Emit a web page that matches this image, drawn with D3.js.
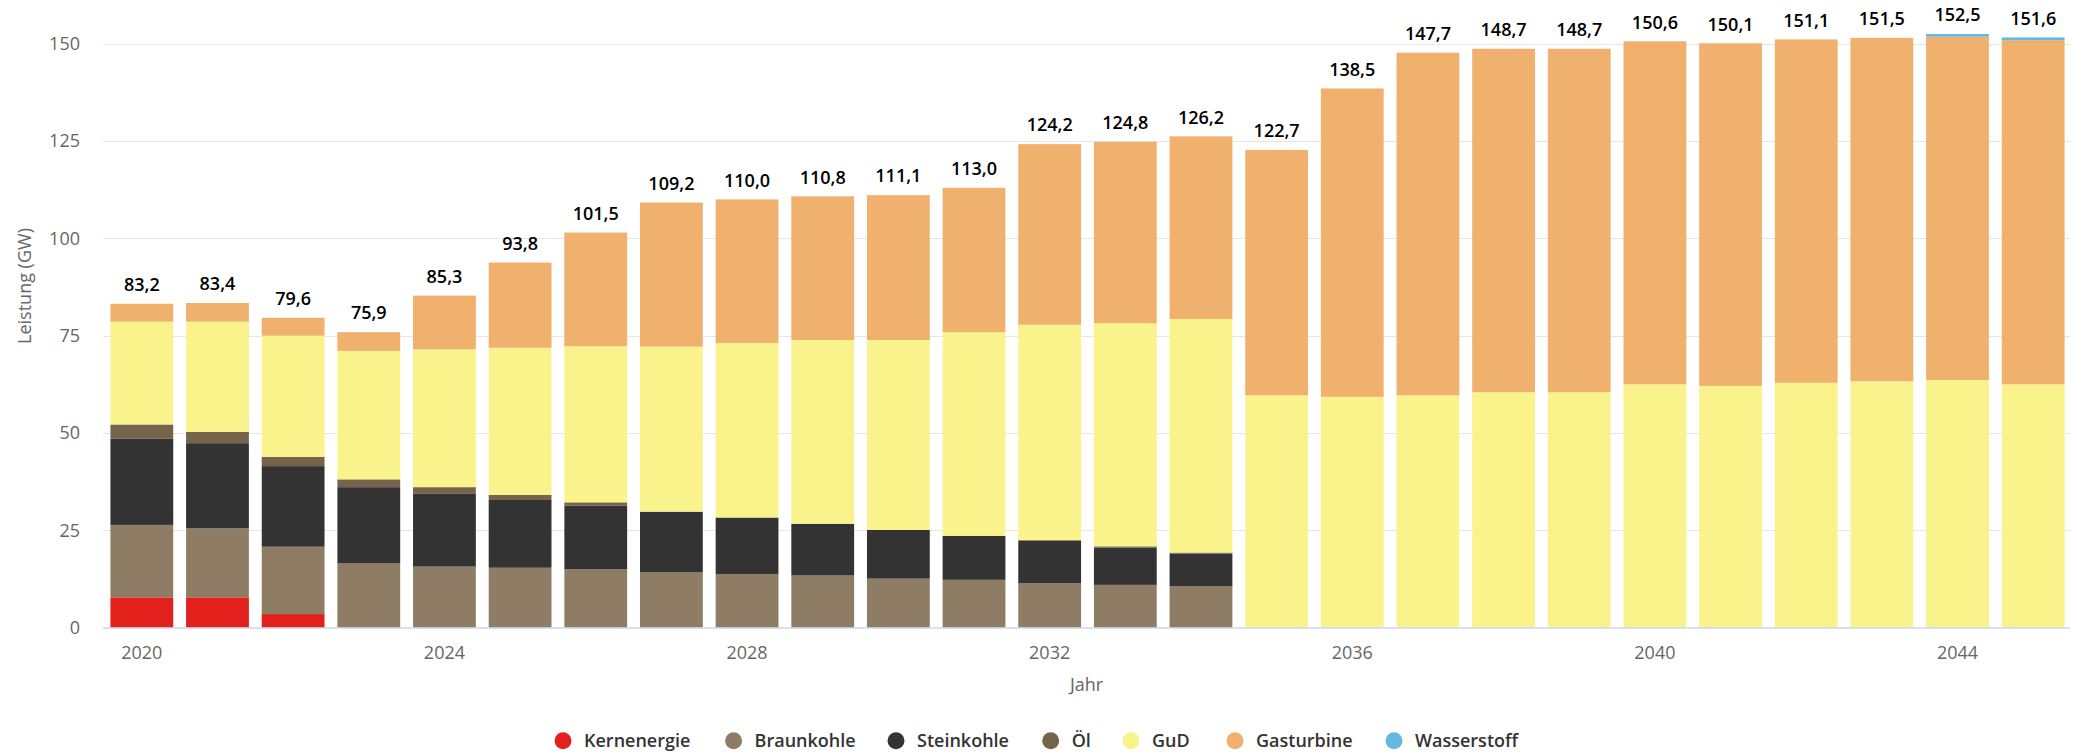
<!DOCTYPE html>
<html>
<head>
<meta charset="utf-8">
<script src="https://cdn.jsdelivr.net/npm/d3@7"></script>
<style>
  html, body { margin: 0; padding: 0; background: #fff; }
  svg { display: block; font-family: "Open Sans", "Liberation Sans", Arial, sans-serif; }
</style>
</head>
<body>
<svg id="chart" width="2078" height="752"></svg>
<script>
const years = [2020, 2021, 2022, 2023, 2024, 2025, 2026, 2027, 2028, 2029, 2030, 2031, 2032,
               2033, 2034, 2035, 2036, 2037, 2038, 2039, 2040, 2041, 2042, 2043, 2044, 2045];
const seriesNames = ["Kernenergie", "Braunkohle", "Steinkohle", "Öl", "GuD", "Gasturbine", "Wasserstoff"];
const seriesColors = ["#e2201c", "#8e7d64", "#333333", "#75634a", "#faf38c", "#f0b06e", "#65b8e0"];

const kernenergie = [7.8, 7.8, 3.5, 0, 0, 0, 0, 0, 0, 0, 0, 0, 0, 0, 0, 0, 0, 0, 0, 0, 0, 0, 0, 0, 0, 0];
const braunkohle  = [18.6, 17.7, 17.3, 16.5, 15.7, 15.4, 15.0, 14.2, 13.8, 13.4, 12.6, 12.3, 11.4, 11.0, 10.6, 0, 0, 0, 0, 0, 0, 0, 0, 0, 0, 0];
const steinkohle  = [22.2, 21.9, 20.7, 19.6, 18.8, 17.4, 16.4, 15.6, 14.5, 13.3, 12.5, 11.3, 10.9, 9.6, 8.4, 0, 0, 0, 0, 0, 0, 0, 0, 0, 0, 0];
const oel         = [3.6, 2.9, 2.4, 2.0, 1.6, 1.3, 0.8, 0, 0, 0, 0, 0, 0.2, 0.3, 0.3, 0, 0, 0, 0, 0, 0, 0, 0, 0, 0, 0];
const gud         = [26.4, 28.3, 31.1, 33.0, 35.4, 37.8, 40.1, 42.4, 44.8, 47.2, 48.8, 52.3, 55.3, 57.3, 60.0, 59.7, 59.3, 59.7, 60.5, 60.5, 62.5, 62.1, 62.9, 63.3, 63.6, 62.5];
const gasturbine  = [4.6, 4.8, 4.6, 4.8, 13.8, 21.9, 29.2, 37.0, 36.9, 36.9, 37.2, 37.1, 46.4, 46.6, 46.9, 63.0, 79.2, 88.0, 88.2, 88.2, 88.1, 88.0, 88.2, 88.2, 88.2, 88.4];
const wasserstoff = [0, 0, 0, 0, 0, 0, 0, 0, 0, 0, 0, 0, 0, 0, 0, 0, 0, 0, 0, 0, 0, 0, 0, 0, 0.7, 0.7];

const xTickYears = [2020, 2024, 2028, 2032, 2036, 2040, 2044];
const yTicks = [0, 25, 50, 75, 100, 125, 150];

const seriesValues = [kernenergie, braunkohle, steinkohle, oel, gud, gasturbine, wasserstoff];
const rows = years.map((yr, i) => {
  const r = { year: yr };
  seriesNames.forEach((n, k) => { r[n] = seriesValues[k][i]; });
  return r;
});

const svg = d3.select("#chart");
const x = d3.scaleBand().domain(years).range([104, 2071]).paddingInner(0.17).paddingOuter(0.085);
const y = d3.scaleLinear().domain([0, 150]).range([627.7, 43.7]);
const color = d3.scaleOrdinal().domain(seriesNames).range(seriesColors);
const fmt = v => d3.format(".1f")(v).replace(".", ",");

// gridlines
svg.append("g").selectAll("line").data(yTicks.filter(t => t > 0)).join("line")
  .attr("x1", 103).attr("x2", 2070)
  .attr("y1", d => Math.round(y(d)) + 0.5).attr("y2", d => Math.round(y(d)) + 0.5)
  .attr("stroke", "#e6e6e6").attr("stroke-width", 1);

// y tick labels
svg.append("g").selectAll("text").data(yTicks).join("text")
  .attr("x", 80).attr("y", d => y(d)).attr("dy", "0.35em")
  .attr("text-anchor", "end").attr("font-size", 18).attr("fill", "#666666")
  .text(d => d);

// y title
svg.append("text")
  .attr("transform", "translate(25,286) rotate(-90)")
  .attr("text-anchor", "middle").attr("dy", "0.35em")
  .attr("font-size", 18).attr("fill", "#666666")
  .text("Leistung (GW)");

// stacked bars
const stacked = d3.stack().keys(seriesNames)(rows);
svg.append("g").selectAll("g").data(stacked).join("g")
  .attr("fill", d => color(d.key))
  .selectAll("rect").data(d => d).join("rect")
  .attr("x", d => x(d.data.year))
  .attr("width", x.bandwidth())
  .attr("y", d => y(d[1]))
  .attr("height", d => Math.max(0, y(d[0]) - y(d[1])));

// x axis baseline
svg.append("line").attr("x1", 103).attr("x2", 2070)
  .attr("y1", 628).attr("y2", 628)
  .attr("stroke", "#ccd6eb").attr("stroke-width", 1.5);

// x tick labels
svg.append("g").selectAll("text").data(xTickYears).join("text")
  .attr("x", d => x(d) + x.bandwidth() / 2).attr("y", 652.7).attr("dy", "0.35em")
  .attr("text-anchor", "middle").attr("font-size", 18).attr("fill", "#666666")
  .text(d => d);

// x title
svg.append("text").attr("x", (103 + 2070) / 2).attr("y", 685).attr("dy", "0.35em")
  .attr("text-anchor", "middle").attr("font-size", 18).attr("fill", "#666666")
  .text("Jahr");

// stack total labels
const totals = rows.map(r => ({ year: r.year, total: d3.sum(seriesNames, n => r[n]) }));
svg.append("g").selectAll("text").data(totals).join("text")
  .attr("x", d => x(d.year) + x.bandwidth() / 2)
  .attr("y", d => y(d.total) - 19).attr("dy", "0.35em")
  .attr("text-anchor", "middle").attr("font-size", 18).attr("font-weight", 600)
  .attr("fill", "#000000")
  .text(d => fmt(d.total));

// legend
const legendX = [563, 733.6, 896, 1050.7, 1131, 1235, 1394];
const legend = svg.append("g").selectAll("g").data(seriesNames).join("g")
  .attr("transform", (d, i) => `translate(${legendX[i]},740.7)`);
legend.append("circle").attr("r", 8.5).attr("fill", d => color(d));
legend.append("text").attr("x", 21).attr("dy", "0.35em")
  .attr("font-size", 18).attr("font-weight", 600).attr("fill", "#333333")
  .text(d => d);
</script>
</body>
</html>
